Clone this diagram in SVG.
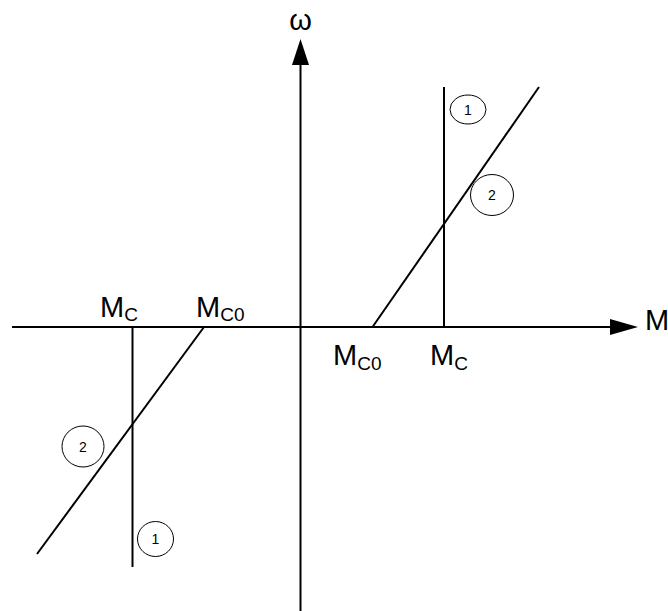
<svg xmlns="http://www.w3.org/2000/svg" width="668" height="611" viewBox="0 0 668 611">
  <style>
    .ln { stroke: #000; stroke-width: 2; fill: none; }
    .lbl { font-family: "Liberation Sans", Arial, sans-serif; font-size: 29px; fill: #000; }
    .sub { font-size: 19px; }
    .circ { stroke: #000; stroke-width: 1; fill: none; }
    .num { font-family: "Liberation Sans", Arial, sans-serif; font-size: 14px; fill: #000; text-anchor: middle; }
  </style>
  <rect width="668" height="611" fill="#fff"/>
  <g id="connectors">
    <line class="ln" x1="300.5" y1="611" x2="300.5" y2="60"/>
    <polygon points="300.5,39 292,65 309,65" fill="#000"/>
    <line class="ln" x1="12" y1="327" x2="615" y2="327"/>
    <polygon points="638,327 610,319 610,335" fill="#000"/>
  </g>
  <g id="axis-labels">
    <text class="lbl" x="300.5" y="30" text-anchor="middle">ω</text>
    <text class="lbl" x="645" y="330">M</text>
  </g>
  <g id="right-char">
    <line class="ln" x1="444" y1="87" x2="444" y2="327"/>
    <line class="ln" x1="372.5" y1="327" x2="539" y2="87"/>
    <text class="lbl" x="333" y="365">M<tspan class="sub" dy="5">C0</tspan></text>
    <text class="lbl" x="430" y="365">M<tspan class="sub" dy="5">C</tspan></text>
  </g>
  <g id="left-char">
    <line class="ln" x1="132.5" y1="327" x2="132.5" y2="567"/>
    <line class="ln" x1="204" y1="327" x2="37" y2="554"/>
    <text class="lbl" x="100" y="317">M<tspan class="sub" dy="4">C</tspan></text>
    <text class="lbl" x="196" y="317">M<tspan class="sub" dy="4">C0</tspan></text>
  </g>
  <g id="mark-r1">
    <ellipse class="circ" cx="468" cy="109.5" rx="18" ry="14.5"/>
    <text class="num" x="468" y="114.5">1</text>
  </g>
  <g id="mark-r2">
    <ellipse class="circ" cx="492" cy="195" rx="21.5" ry="20.5"/>
    <text class="num" x="492" y="200">2</text>
  </g>
  <g id="mark-l2">
    <ellipse class="circ" cx="83" cy="446.5" rx="21" ry="20.5"/>
    <text class="num" x="83" y="451.5">2</text>
  </g>
  <g id="mark-l1">
    <ellipse class="circ" cx="155.5" cy="539" rx="18" ry="17.5"/>
    <text class="num" x="155.5" y="544">1</text>
  </g>
</svg>
